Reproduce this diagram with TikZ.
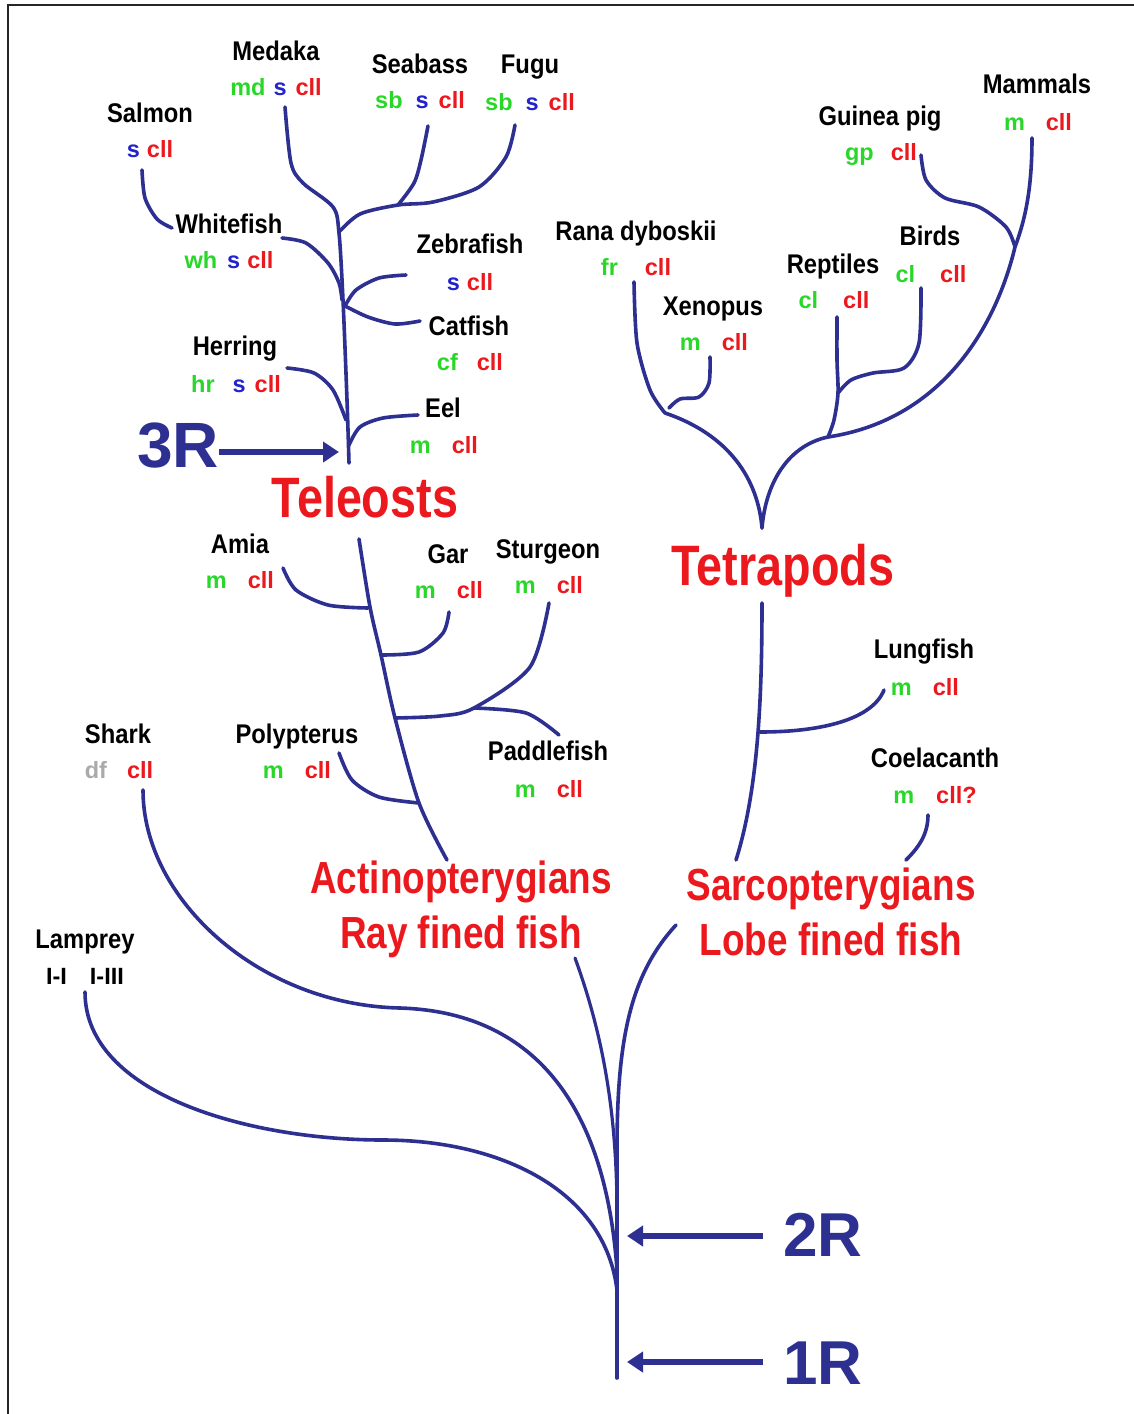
\documentclass[tikz,border=0pt]{standalone}
\usepackage{fontspec}
\setmainfont{Liberation Sans}
\newfontfamily\nmfont{Liberation Sans}[FakeStretch=0.88]
\newfontfamily\bgfont{Liberation Sans}[FakeStretch=0.82]
\usetikzlibrary{arrows.meta}
\definecolor{navy}{RGB}{45,47,145}
\definecolor{lred}{RGB}{235,25,30}
\definecolor{lgreen}{RGB}{40,215,40}
\definecolor{lblue}{RGB}{35,35,205}
\definecolor{lgray}{RGB}{170,170,170}
\newcommand{\tgG}[1]{\textcolor{lgreen}{#1}}
\newcommand{\tgB}[1]{\textcolor{lblue}{#1}}
\newcommand{\tgR}[1]{\textcolor{lred}{#1}}
\newcommand{\tgK}[1]{\textcolor{lgray}{#1}}
\tikzset{
  spname/.style={font=\nmfont\bfseries\fontsize{27}{27}\selectfont, anchor=base, inner sep=0pt, text=black},
  sptag/.style={font=\bfseries\fontsize{23.5}{23.5}\selectfont, anchor=base, inner sep=0pt},
  bigred/.style={font=\bgfont\bfseries\fontsize{57}{57}\selectfont, anchor=base, inner sep=0pt, text=lred},
  midred/.style={font=\bgfont\bfseries\fontsize{45}{45}\selectfont, anchor=base, inner sep=0pt, text=lred},
  rlabel/.style={font=\bfseries\fontsize{62}{62}\selectfont, anchor=base, inner sep=0pt, text=navy},
  br/.style={draw=navy, line width=3.6pt, line cap=round, line join=round},
  rarrow/.style={draw=navy, line width=5.5pt, -{Triangle[length=16pt,width=20pt]}},
  frameline/.style={draw=black!85, line width=2.5pt}
}
\begin{document}
\begin{tikzpicture}[x=1pt,y=-1pt]
\useasboundingbox (0,0) rectangle (1134,1414);
\fill[white] (0,0) rectangle (1134,1414);
% frame
\coordinate (fTL) at (8,5);
\coordinate (fTR) at (1134,5);
\coordinate (fBL) at (8,1414);
\draw[frameline] (fTR) -- (fTL) -- (fBL);

% ---------- names ----------
\node[spname] (nMedaka) at (276,60) {Medaka};
\node[spname] (nSeabass) at (420,73) {Seabass};
\node[spname] (nFugu) at (530,73) {Fugu};
\node[spname] (nSalmon) at (150,122) {Salmon};
\node[spname] (nWhitefish) at (229,233) {Whitefish};
\node[spname] (nZebrafish) at (470,253) {Zebrafish};
\node[spname] (nCatfish) at (469,335) {Catfish};
\node[spname] (nHerring) at (235,355) {Herring};
\node[spname] (nEel) at (443,417) {Eel};
\node[spname] (nAmia) at (240,553) {Amia};
\node[spname] (nGar) at (448,563) {Gar};
\node[spname] (nSturgeon) at (548,558) {Sturgeon};
\node[spname] (nShark) at (118,743) {Shark};
\node[spname] (nPolypterus) at (297,743) {Polypterus};
\node[spname] (nPaddlefish) at (548,760) {Paddlefish};
\node[spname] (nLamprey) at (85,948) {Lamprey};
\node[spname] (nRana) at (636,240) {Rana dyboskii};
\node[spname] (nXenopus) at (713,315) {Xenopus};
\node[spname] (nReptiles) at (833,273) {Reptiles};
\node[spname] (nBirds) at (930,245) {Birds};
\node[spname] (nGuinea) at (880,125) {Guinea pig};
\node[spname] (nMammals) at (1037,93) {Mammals};
\node[spname] (nLungfish) at (924,658) {Lungfish};
\node[spname] (nCoelacanth) at (935,767) {Coelacanth};

% ---------- tags ----------
\node[sptag] (tMedaka) at (276,95) {\tgG{md}\hspace{8pt}\tgB{s}\hspace{9pt}\tgR{cll}};
\node[sptag] (tSeabass) at (420,108) {\tgG{sb}\hspace{13pt}\tgB{s}\hspace{10pt}\tgR{cll}};
\node[sptag] (tFugu) at (530,110) {\tgG{sb}\hspace{13pt}\tgB{s}\hspace{10pt}\tgR{cll}};
\node[sptag] (tSalmon) at (150,157) {\tgB{s}\hspace{7pt}\tgR{cll}};
\node[sptag] (tWhitefish) at (229,268) {\tgG{wh}\hspace{10pt}\tgB{s}\hspace{7pt}\tgR{cll}};
\node[sptag] (tZebrafish) at (470,290) {\tgB{s}\hspace{7pt}\tgR{cll}};
\node[sptag] (tCatfish) at (470,370) {\tgG{cf}\hspace{19pt}\tgR{cll}};
\node[sptag] (tHerring) at (236,392) {\tgG{hr}\hspace{18pt}\tgB{s}\hspace{9pt}\tgR{cll}};
\node[sptag] (tEel) at (444,453) {\tgG{m}\hspace{21pt}\tgR{cll}};
\node[sptag] (tAmia) at (240,588) {\tgG{m}\hspace{21pt}\tgR{cll}};
\node[sptag] (tGar) at (449,598) {\tgG{m}\hspace{21pt}\tgR{cll}};
\node[sptag] (tSturgeon) at (549,593) {\tgG{m}\hspace{21pt}\tgR{cll}};
\node[sptag] (tShark) at (119,778) {\tgK{df}\hspace{20pt}\tgR{cll}};
\node[sptag] (tPolypterus) at (297,778) {\tgG{m}\hspace{21pt}\tgR{cll}};
\node[sptag] (tPaddlefish) at (549,797) {\tgG{m}\hspace{21pt}\tgR{cll}};
\node[sptag] (tLamprey) at (85,984) {I-I\hspace{23pt}I-III};
\node[sptag] (tRana) at (636,275) {\tgG{fr}\hspace{27pt}\tgR{cll}};
\node[sptag] (tXenopus) at (714,350) {\tgG{m}\hspace{21pt}\tgR{cll}};
\node[sptag] (tReptiles) at (834,308) {\tgG{cl}\hspace{25pt}\tgR{cll}};
\node[sptag] (tBirds) at (931,282) {\tgG{cl}\hspace{25pt}\tgR{cll}};
\node[sptag] (tGuinea) at (881,160) {\tgG{gp}\hspace{17pt}\tgR{cll}};
\node[sptag] (tMammals) at (1038,130) {\tgG{m}\hspace{21pt}\tgR{cll}};
\node[sptag] (tLungfish) at (925,695) {\tgG{m}\hspace{21pt}\tgR{cll}};
\node[sptag] (tCoelacanth) at (935,803) {\tgG{m}\hspace{22pt}\tgR{cll?}};

% ---------- group labels ----------
\node[bigred] (gTeleosts) at (365,517) {Teleosts};
\node[bigred] (gTetrapods) at (783,585) {Tetrapods};
\node[midred] (gActino) at (461,893) {Actinopterygians};
\node[midred] (gRay) at (461,948) {Ray fined fish};
\node[midred] (gSarco) at (831,900) {Sarcopterygians};
\node[midred] (gLobe) at (831,955) {Lobe fined fish};

% ---------- duplication labels ----------
\node[rlabel, font=\bfseries\fontsize{64}{64}\selectfont] (r3) at (178,467) {3R};
\node[rlabel] (r2) at (823,1256) {2R};
\node[rlabel] (r1) at (823,1384) {1R};

% ---------- teleost tree ----------
\coordinate (tBase) at (349,463);
\coordinate (tMed) at (285,107);
\draw[br] plot[smooth] coordinates {(tBase) (347,400) (343,300) (339,233) (333,207) (303,183) (291,163) (tMed)};
\coordinate (jSF) at (339,232);
\coordinate (jSF2) at (398,205);
\coordinate (tipSea) at (428,126);
\coordinate (tipFugu) at (515,125);
\draw[br] plot[smooth] coordinates {(jSF) (360,214) (jSF2) (433,202) (479,187) (506,157) (tipFugu)};
\draw[br] plot[smooth] coordinates {(jSF2) (414,183) (421,160) (tipSea)};
\coordinate (tipSal) at (142,170);
\coordinate (endSal) at (172,228);
\draw[br] plot[smooth] coordinates {(tipSal) (145,198) (157,219) (endSal)};
\coordinate (tipWhite) at (282,238);
\coordinate (jWhite) at (342,300);
\draw[br] plot[smooth] coordinates {(tipWhite) (306,243) (328,263) (339,283) (jWhite)};
\coordinate (tipZeb) at (406,275);
\coordinate (jZeb) at (345,306);
\draw[br] plot[smooth] coordinates {(tipZeb) (379,278) (356,290) (jZeb)};
\coordinate (tipCat) at (420,321);
\draw[br] plot[smooth] coordinates {(jZeb) (368,317) (395,324) (tipCat)};
\coordinate (tipHer) at (287,368);
\coordinate (jHer) at (346,420);
\draw[br] plot[smooth] coordinates {(tipHer) (314,373) (333,390) (jHer)};
\coordinate (tipEel) at (418,415);
\coordinate (jEel) at (349,445);
\draw[br] plot[smooth] coordinates {(tipEel) (383,418) (360,427) (jEel)};

% ---------- actinopterygian tree ----------
\coordinate (aTop) at (359,539);
\coordinate (aBot) at (447,860);
\draw[br] plot[smooth] coordinates {(aTop) (370,607) (381,655) (395,718) (419,803) (aBot)};
\coordinate (tipAmia) at (283,568);
\coordinate (jAmia) at (368,608);
\draw[br] plot[smooth] coordinates {(tipAmia) (296,590) (328,605) (jAmia)};
\coordinate (tipGar) at (449,612);
\coordinate (jGar) at (381,655);
\draw[br] plot[smooth] coordinates {(tipGar) (443,633) (419,652) (jGar)};
\coordinate (jStu) at (395,718);
\coordinate (jSP) at (474,708);
\coordinate (tipStu) at (549,603);
\coordinate (tipPad) at (559,735);
\draw[br] plot[smooth] coordinates {(jStu) (440,716) (jSP) (530,667) (tipStu)};
\draw[br] plot[smooth] coordinates {(jSP) (526,713) (tipPad)};
\coordinate (tipPol) at (339,753);
\coordinate (jPol) at (419,803);
\draw[br] plot[smooth] coordinates {(tipPol) (352,780) (379,797) (jPol)};

% ---------- tetrapod tree ----------
\coordinate (tpBase) at (762,528);
\coordinate (jAmph) at (665,413);
\coordinate (jAmn) at (828,437);
\draw[br] (jAmph) .. controls (730,435) and (758,480) .. (tpBase);
\draw[br] (tpBase) .. controls (766,480) and (790,445) .. (jAmn);
\coordinate (tipRana) at (634,282);
\draw[br] plot[smooth] coordinates {(tipRana) (637,343) (650,390) (jAmph)};
\coordinate (tipXen) at (710,357);
\draw[br] plot[smooth] coordinates {(tipXen) (709,383) (699,397) (680,399) (669,408)};
\coordinate (tipRep) at (837,317);
\coordinate (jRB) at (838,393);
\draw[br] plot[smooth] coordinates {(tipRep) (837,360) (jRB) (834,420) (jAmn)};
\coordinate (tipBird) at (921,288);
\draw[br] plot[smooth] coordinates {(tipBird) (919,343) (904,368) (873,373) (851,380) (jRB)};
\coordinate (tipMam) at (1032,138);
\coordinate (jMam) at (1015,247);
\draw[br] (tipMam) .. controls (1032,190) and (1025,220) .. (jMam)
              .. controls (995,330) and (940,420) .. (jAmn);
\coordinate (tipGP) at (921,155);
\draw[br] plot[smooth] coordinates {(tipGP) (926,180) (945,198) (979,207) (1006,227) (jMam)};

% ---------- sarcopterygian tree ----------
\coordinate (sTop) at (762,603);
\coordinate (sBot) at (736,860);
\draw[br] (sTop) .. controls (762,700) and (758,790) .. (sBot);
\coordinate (jLung) at (760,732);
\coordinate (tipLung) at (884,690);
\draw[br] (jLung) .. controls (820,732) and (872,720) .. (tipLung);
\coordinate (tipCoel) at (928,815);
\coordinate (endCoel) at (906,860);
\draw[br] (tipCoel) .. controls (928,835) and (918,848) .. (endCoel);

% ---------- basal tree ----------
\coordinate (root) at (617,1378);
\coordinate (jTrunk) at (617,1150);
\draw[br] (root) -- (jTrunk);
\coordinate (tipLobe) at (676,925);
\draw[br] (jTrunk) .. controls (617,1040) and (630,975) .. (tipLobe);
\coordinate (tipRay) at (575,958);
\coordinate (jRay) at (617,1215);
\draw[br, line width=3.2pt] (tipRay) .. controls (605,1040) and (617,1120) .. (jRay);
\coordinate (tipShark) at (143,790);
\coordinate (midShark) at (400,1008);
\coordinate (jShark) at (617,1270);
\draw[br] (tipShark) .. controls (143,900) and (260,1005) .. (midShark)
               .. controls (530,1012) and (605,1100) .. (jShark);
\coordinate (tipLamp) at (85,992);
\coordinate (midLamp) at (383,1140);
\coordinate (jLamp) at (617,1290);
\draw[br] (tipLamp) .. controls (85,1095) and (250,1140) .. (midLamp)
               .. controls (500,1140) and (605,1190) .. (jLamp);

% ---------- duplication arrows ----------
\coordinate (s3) at (219,452);
\coordinate (a3) at (339,452);
\draw[rarrow] (s3) -- (a3);
\coordinate (s2) at (763,1236);
\coordinate (a2) at (627,1236);
\draw[rarrow] (s2) -- (a2);
\coordinate (s1) at (763,1362);
\coordinate (a1) at (627,1362);
\draw[rarrow] (s1) -- (a1);
\end{tikzpicture}
\end{document}
